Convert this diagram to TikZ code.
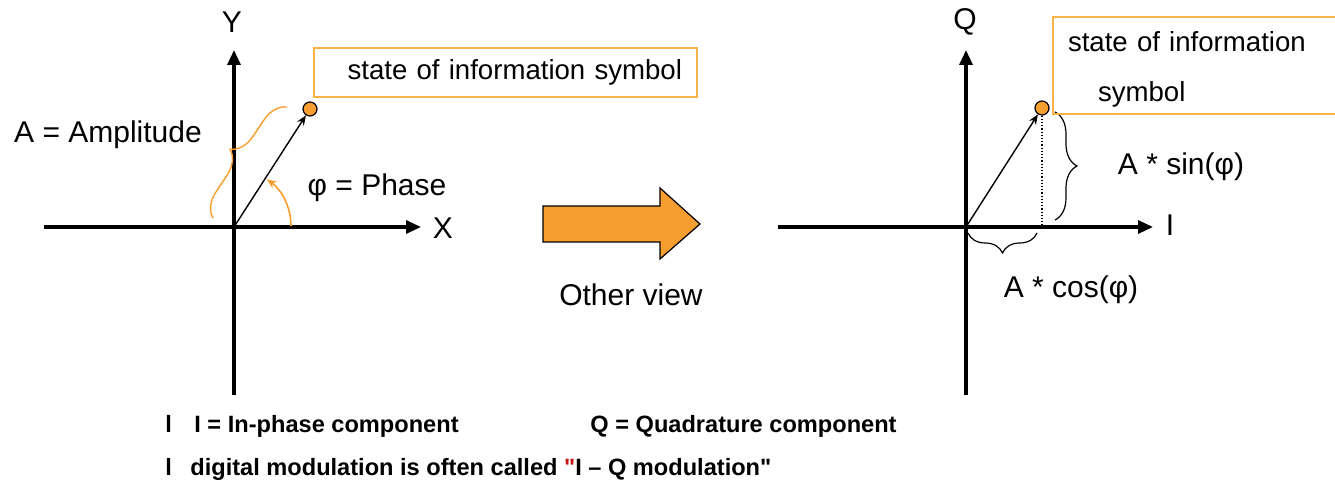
\documentclass[tikz,border=0pt]{standalone}
\usepackage{fontspec}
\setmainfont{Liberation Sans}
\newfontfamily\notefont[Ligatures=TeXOff]{Liberation Sans}
\usetikzlibrary{arrows.meta,decorations.pathreplacing}

\definecolor{symorange}{RGB}{247,158,48}
\definecolor{boxorange}{RGB}{250,178,72}
\definecolor{quotered}{RGB}{200,20,20}

\tikzset{
  axis/.style={line width=1.6pt, -{Triangle[length=7.5pt,width=6.5pt]}},
  vec/.style={line width=0.7pt, -{Stealth[length=5pt,width=4pt]}},
  symdot/.style={circle, draw=black, line width=0.6pt, fill=symorange, minimum size=7pt, inner sep=0pt},
  lbl/.style={font=\fontsize{15}{18}\selectfont},
  boxtxt/.style={font=\fontsize{13.8}{25}\selectfont},
  infobox/.style={draw=boxorange, line width=1pt},
  bracedec/.style={decorate, decoration={brace, amplitude=#1}},
  note/.style={font=\notefont\fontsize{11.8}{14}\selectfont\bfseries, anchor=base west, inner sep=0pt}
}

\begin{document}
\begin{tikzpicture}[x=0.5pt, y=-0.5pt]
\useasboundingbox (0,0) rectangle (1335,481);

% Left view: X-Y plane
\coordinate (O1) at (234,227);
\coordinate (X1a) at (44,227);
\coordinate (X1b) at (421,227);
\coordinate (Y1a) at (234,395);
\coordinate (Y1b) at (234,50);
\draw[axis] (X1a) -- (X1b);
\draw[axis] (Y1a) -- (Y1b);
\node[lbl] (ylbl) at (232,22) {Y};
\node[lbl] (xlbl) at (443,228) {X};

% Symbol point and vector
\node[symdot] (p1) at (310,109) {};
\draw[vec] (O1) -- (p1);

% Phase arc
\coordinate (ph0) at (291,226);
\draw[symorange, line width=0.8pt, -{Stealth[length=5pt,width=4pt]}] (ph0) arc[start angle=0, end angle=55, radius=28.5pt];
\node[lbl] (phase) at (377,188) {φ = Phase};

% Amplitude brace
\coordinate (am1) at (213,218);
\coordinate (am2) at (287,107);
\draw[symorange, line width=0.7pt, bracedec=12pt] (am1) -- (am2);
\node[lbl] (amp) at (108,135) {A = Amplitude};

% Info box
\node[infobox, boxtxt, text width=176.5pt, inner xsep=7.5pt, minimum height=24.5pt, align=right] (box1) at (505.5,72.5) {state of information symbol};

% Big arrow in the middle
\draw[fill=symorange, line width=0.6pt] (543,206) -- (660,206) -- (660,188) -- (700,224) -- (660,259) -- (660,242) -- (543,242) -- cycle;
\node[lbl] (other) at (631,295) {Other view};

% Right view: I-Q plane
\coordinate (O2) at (966,227);
\coordinate (I2a) at (778,227);
\coordinate (I2b) at (1153,227);
\coordinate (Q2a) at (966,395);
\coordinate (Q2b) at (966,50);
\draw[axis] (I2a) -- (I2b);
\draw[axis] (Q2a) -- (Q2b);
\node[lbl] (qlbl) at (965,22) {Q};
\node[lbl] (ilbl) at (1170,225) {I};

\node[symdot] (p2) at (1042,108) {};
\draw[vec] (O2) -- (p2);
\draw[densely dotted, line width=0.6pt] (p2.south) -- (p2 |- O2);

% Component braces
\coordinate (s1) at (1055,112);
\coordinate (s2) at (1055,220);
\draw[line width=0.6pt, bracedec=11pt] (s1) -- (s2);
\node[lbl] (sinlbl) at (1181,167) {A * sin(φ)};
\coordinate (c1) at (1037,233);
\coordinate (c2) at (968,233);
\draw[line width=0.6pt, bracedec=10pt] (c1) -- (c2);
\node[lbl] (coslbl) at (1071,290) {A * cos(φ)};

\node[infobox, boxtxt, anchor=north west, text width=140pt, inner xsep=7.5pt, minimum height=48pt, align=left] (box2) at (1052,16) {\rule{0pt}{14pt}state of information\\\hspace*{15pt}symbol};

% Notes at the bottom
\node[note] (b1) at (165,432) {l};
\node[note] (n1) at (194,432) {I = In-phase component};
\node[note] (n2) at (590,432) {Q = Quadrature component};
\node[note] (b2) at (165,475) {l};
\node[note] (n3) at (190,475) {digital modulation is often called \textcolor{quotered}{"}I – Q modulation"};

\end{tikzpicture}
\end{document}
